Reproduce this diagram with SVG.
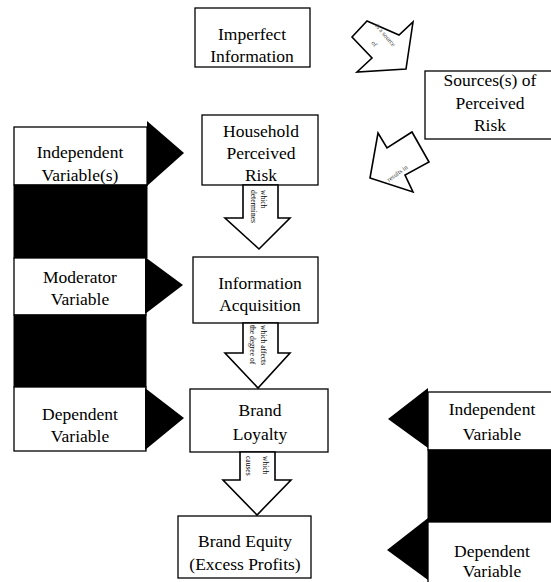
<svg xmlns="http://www.w3.org/2000/svg" width="551" height="582" viewBox="0 0 551 582">
  <style>
    .box { fill: #ffffff; stroke: #000000; stroke-width: 1.3; }
    .band { fill: #000000; stroke: #000000; stroke-width: 1; }
    .tri { fill: #000000; stroke: none; }
    .arrow { fill: #ffffff; stroke: #000000; stroke-width: 1.6; stroke-linejoin: miter; }
    .lbl { font-family: "Liberation Serif", "Times New Roman", serif; font-size: 17.5px; fill: #000000; text-anchor: middle; }
    .tiny { font-family: "Liberation Serif", "Times New Roman", serif; font-size: 7.5px; fill: #000000; }
    .faint { font-family: "Liberation Serif", "Times New Roman", serif; font-size: 6.5px; fill: #444444; }
  </style>

  <rect x="0" y="0" width="551" height="582" fill="#ffffff"/>

  <!-- centre chain of concepts -->
  <g id="imperfect-information">
    <rect class="box" x="195" y="8" width="115" height="59"/>
    <text class="lbl" x="252" y="40">Imperfect</text>
    <text class="lbl" x="252" y="62">Information</text>
  </g>

  <g id="sources-of-risk">
    <rect class="box" x="425" y="71" width="135" height="68"/>
    <text class="lbl" x="490" y="86">Sources(s) of</text>
    <text class="lbl" x="490" y="109">Perceived</text>
    <text class="lbl" x="490" y="131">Risk</text>
  </g>

  <g id="household-perceived-risk">
    <rect class="box" x="202" y="115" width="116" height="70"/>
    <text class="lbl" x="261" y="137">Household</text>
    <text class="lbl" x="261" y="159">Perceived</text>
    <text class="lbl" x="261" y="181">Risk</text>
  </g>

  <g id="information-acquisition">
    <rect class="box" x="193" y="257" width="125" height="66"/>
    <text class="lbl" x="260" y="289">Information</text>
    <text class="lbl" x="260" y="311">Acquisition</text>
  </g>

  <g id="brand-loyalty">
    <rect class="box" x="190" y="389" width="138" height="63"/>
    <text class="lbl" x="260" y="416">Brand</text>
    <text class="lbl" x="260" y="440">Loyalty</text>
  </g>

  <g id="brand-equity">
    <rect class="box" x="178" y="516" width="133" height="62"/>
    <text class="lbl" x="245" y="547">Brand Equity</text>
    <text class="lbl" x="245" y="570">(Excess Profits)</text>
  </g>

  <!-- left legend column -->
  <g id="legend-left">
    <rect class="box" x="14" y="127" width="133" height="58"/>
    <rect class="band" x="14" y="185" width="133" height="73"/>
    <rect class="box" x="14" y="258" width="132" height="57"/>
    <rect class="band" x="14" y="315" width="132" height="72"/>
    <rect class="box" x="14" y="387" width="132" height="64"/>
    <polygon class="tri" points="147,121 184,153 147,186"/>
    <polygon class="tri" points="145,257 183,285 145,314"/>
    <polygon class="tri" points="145,388 184,418 145,450"/>
    <text class="lbl" x="80" y="158">Independent</text>
    <text class="lbl" x="80" y="181">Variable(s)</text>
    <text class="lbl" x="80" y="283">Moderator</text>
    <text class="lbl" x="80" y="305">Variable</text>
    <text class="lbl" x="80" y="420">Dependent</text>
    <text class="lbl" x="80" y="442">Variable</text>
  </g>

  <!-- right legend column -->
  <g id="legend-right">
    <rect class="box" x="428" y="392" width="130" height="58"/>
    <rect class="band" x="428" y="450" width="130" height="72"/>
    <rect class="box" x="428" y="522" width="130" height="66"/>
    <polygon class="tri" points="428,388 388,419 428,448"/>
    <polygon class="tri" points="428,518 387,550 428,580"/>
    <text class="lbl" x="492" y="415">Independent</text>
    <text class="lbl" x="492" y="440">Variable</text>
    <text class="lbl" x="492" y="557">Dependent</text>
    <text class="lbl" x="492" y="577">Variable</text>
  </g>

  <!-- block-arrow connectors -->
  <g id="connectors">
    <polygon class="arrow" points="352,37 367,21 399,35 413,22 406,69 357,72 372,58"/>
    <text class="faint" transform="translate(375,26) rotate(50)">is a source</text>
    <text class="faint" transform="translate(371,43) rotate(50)">of</text>

    <polygon class="arrow" points="378,133 387,148 412,132 429,162 405,175 413,192 370,178"/>
    <text class="faint" transform="translate(389,182) rotate(-36)">results in</text>

    <polygon class="arrow" points="243,185 278,185 278,218 290,218 259,249 225,218 243,218"/>
    <text class="tiny" transform="translate(261,190) rotate(90)">which</text>
    <text class="tiny" transform="translate(251,190) rotate(90)">determines</text>

    <polygon class="arrow" points="243,323 278,323 278,353 290,353 258,388 225,353 243,353"/>
    <text class="tiny" transform="translate(261,325) rotate(90)">which affects</text>
    <text class="tiny" transform="translate(250,325) rotate(90)">the degree of</text>

    <polygon class="arrow" points="240,452 275,452 275,480 291,480 257,515 223,480 240,480"/>
    <text class="tiny" transform="translate(263,456) rotate(90)">which</text>
    <text class="tiny" transform="translate(246,456) rotate(90)">causes</text>
  </g>
</svg>
